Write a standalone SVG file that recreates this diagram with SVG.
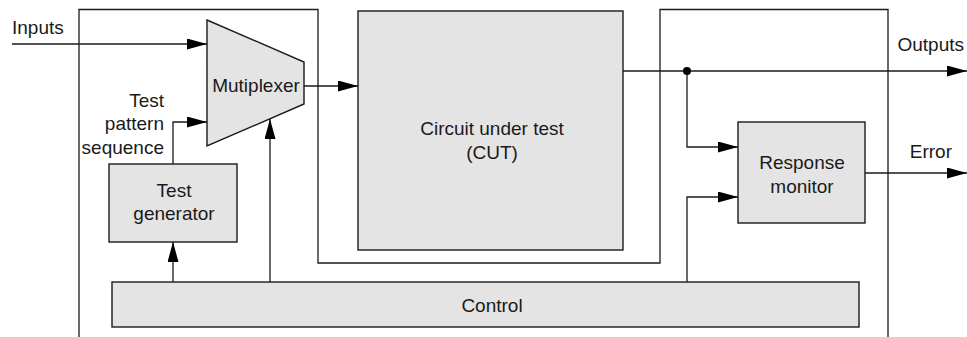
<svg xmlns="http://www.w3.org/2000/svg" width="967" height="337" viewBox="0 0 967 337">
<defs>
<marker id="arr" markerWidth="20" markerHeight="11" refX="20" refY="5.5" orient="auto" markerUnits="userSpaceOnUse">
<path d="M0,0 L20,5.5 L0,11 Z" fill="#000"/>
</marker>
<style>
.box{fill:#e4e4e4;stroke:#1a1a1a;stroke-width:1.4}
.ln{fill:none;stroke:#1a1a1a;stroke-width:1.3}
.ar{fill:none;stroke:#1a1a1a;stroke-width:1.3;marker-end:url(#arr)}
text{font-family:"Liberation Sans",Arial,sans-serif;font-size:19px;fill:#1a1a1a}
.c{text-anchor:middle}
.r{text-anchor:end}
</style>
</defs>
<rect width="967" height="337" fill="#fff"/>
<g id="boundary">
<path class="ln" d="M79,337 V9.5 H318 V263 H660 V9.5 H888 V337"/>
</g>
<g id="multiplexer">
<path class="box" d="M207,20 L304,62 L304,104 L207,146 Z"/>
<text x="256" y="92" class="c">Mutiplexer</text>
</g>
<g id="cut">
<rect class="box" x="358" y="11" width="265" height="239"/>
<text x="492" y="135" class="c">Circuit under test</text>
<text x="492" y="159" class="c">(CUT)</text>
</g>
<g id="test-generator">
<rect class="box" x="109" y="164" width="128" height="78"/>
<text x="174" y="197" class="c">Test</text>
<text x="174" y="220" class="c">generator</text>
</g>
<g id="response-monitor">
<rect class="box" x="738" y="122" width="127" height="101"/>
<text x="802" y="169" class="c">Response</text>
<text x="802" y="193" class="c">monitor</text>
</g>
<g id="control">
<rect class="box" x="112" y="282" width="747" height="45"/>
<text x="492" y="312" class="c">Control</text>
</g>
<g id="connectors">
<path class="ar" d="M12,44 H207"/>
<path class="ar" d="M304,86 H358"/>
<path class="ar" d="M173,164 V122 H207"/>
<path class="ar" d="M173,282 V242"/>
<path class="ar" d="M270,282 V119"/>
<path class="ar" d="M687,282 V197 H738"/>
<path class="ar" d="M623,71 H967"/>
<path class="ar" d="M687,71 V147 H738"/>
<path class="ar" d="M865,173 H967"/>
<circle cx="687" cy="71" r="4" fill="#000"/>
</g>
<g id="labels">
<text x="12" y="34">Inputs</text>
<text x="164" y="107" class="r">Test</text>
<text x="164" y="130" class="r">pattern</text>
<text x="164" y="154" class="r">sequence</text>
<text x="964" y="51" class="r">Outputs</text>
<text x="952" y="158" class="r">Error</text>
</g>
</svg>
